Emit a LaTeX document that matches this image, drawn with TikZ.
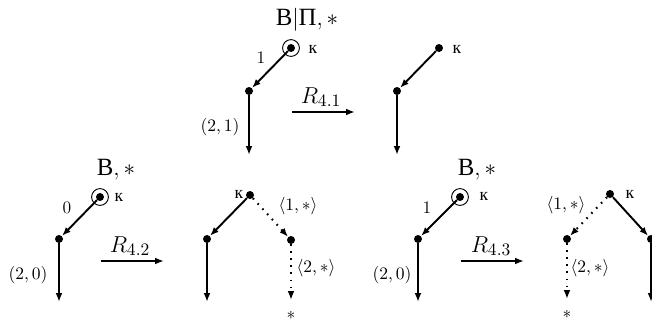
\documentclass[tikz,border=0pt]{standalone}
\usepackage{fontspec}
\newfontfamily\cyr{Liberation Serif}
\usetikzlibrary{arrows.meta}
\begin{document}
\begin{tikzpicture}[x=0.625pt,y=-0.625pt,
 dot/.style={circle,fill,inner sep=0pt,minimum size=5pt},
 ring/.style={circle,draw,line width=0.6pt,inner sep=0pt,minimum size=10.5pt},
 edge/.style={line width=1.2pt,-{Latex[length=5.5pt,width=4.2pt]}},
 dotedge/.style={edge,line width=1.3pt,dash pattern=on 1pt off 3.4pt},
 big/.style={font=\fontsize{15.5}{18}\selectfont,inner sep=0pt},
 lbl/.style={font=\fontsize{11}{13}\selectfont,inner sep=0pt}]
\useasboundingbox (0,0) rectangle (652,322);

% ---- top left
\node[dot] (a) at (291,48) {};
\node[ring] (ar) at (a) {};
\node[dot] (b) at (249,91) {};
\coordinate (be) at (249,155);
\draw[edge] (a) -- (b);
\draw[edge] (b) -- (be);
\node[big] (at) at (307,20) {{\cyr В}$|${\cyr П}$,*$};
\node[lbl] (ak) at (313,49) {\cyr к};
\node[lbl] (a1) at (261,58) {1};
\node[lbl] (b21) at (220,127) {$(2,1)$};
\coordinate (r1s) at (292,112);
\coordinate (r1e) at (355,112);
\draw[edge] (r1s) -- (r1e);
\node[big] (r1) at (321,97) {$R_{4.1}$};

% ---- top right
\node[dot] (c) at (439,48) {};
\node[dot] (d) at (397,91) {};
\coordinate (de) at (397,155);
\draw[edge] (c) -- (d);
\draw[edge] (d) -- (de);
\node[lbl] (ck) at (457,49) {\cyr к};

% ---- bottom 1
\node[dot] (e) at (100,197) {};
\node[ring] (er) at (e) {};
\node[dot] (f) at (59,239) {};
\coordinate (fe) at (59,302);
\draw[edge] (e) -- (f);
\draw[edge] (f) -- (fe);
\node[big] (et) at (116,170) {{\cyr В}$,*$};
\node[lbl] (ek) at (119,197) {\cyr к};
\node[lbl] (e0) at (67,208) {0};
\node[lbl] (f20) at (28,275) {$(2,0)$};
\coordinate (r2s) at (101,261);
\coordinate (r2e) at (164,261);
\draw[edge] (r2s) -- (r2e);
\node[big] (r2) at (130,246) {$R_{4.2}$};

% ---- bottom 2
\node[dot] (g) at (250,195) {};
\node[dot] (h) at (207,239) {};
\coordinate (he) at (207,302);
\node[dot] (i) at (291,240) {};
\coordinate (ie) at (291,300);
\draw[edge] (g) -- (h);
\draw[edge] (h) -- (he);
\draw[dotedge] (g) -- (i);
\draw[dotedge] (i) -- (ie);
\node[lbl] (gk) at (239,194) {\cyr к};
\node[lbl] (gi) at (298,206) {$\langle 1,*\rangle$};
\node[lbl] (ii) at (316,268) {$\langle 2,*\rangle$};
\node[lbl] (is) at (291,315) {$*$};

% ---- bottom 3
\node[dot] (j) at (460,197) {};
\node[ring] (jr) at (j) {};
\node[dot] (k) at (418,239) {};
\coordinate (ke) at (418,302);
\draw[edge] (j) -- (k);
\draw[edge] (k) -- (ke);
\node[big] (jt) at (477,170) {{\cyr В}$,*$};
\node[lbl] (jk) at (484,196) {\cyr к};
\node[lbl] (j1) at (427,208) {1};
\node[lbl] (k20) at (392,275) {$(2,0)$};
\coordinate (r3s) at (461,261);
\coordinate (r3e) at (524,261);
\draw[edge] (r3s) -- (r3e);
\node[big] (r3) at (491,246) {$R_{4.3}$};

% ---- bottom 4
\node[dot] (m) at (610,194) {};
\node[dot] (n) at (651,239) {};
\coordinate (ne) at (651,302);
\node[dot] (o) at (567,239) {};
\coordinate (oe) at (567,299);
\draw[edge] (m) -- (n);
\draw[edge] (n) -- (ne);
\draw[dotedge] (m) -- (o);
\draw[dotedge] (o) -- (oe);
\node[lbl] (mk) at (630,194) {\cyr к};
\node[lbl] (mi) at (566,205) {$\langle 1,*\rangle$};
\node[lbl] (oi) at (590,268) {$\langle 2,*\rangle$};
\node[lbl] (os) at (567,314) {$*$};
\end{tikzpicture}
\end{document}
